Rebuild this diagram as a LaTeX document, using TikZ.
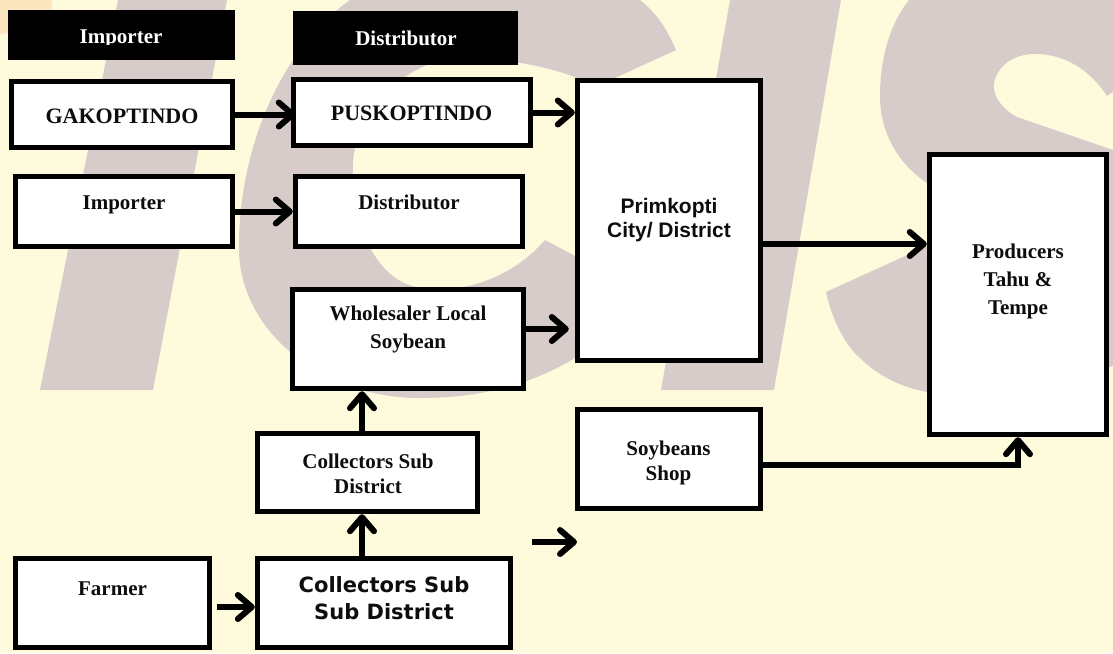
\documentclass[tikz,border=0pt]{standalone}
\usepackage{fontspec}
\setmainfont{Liberation Serif}
\newfontfamily\arialfont{Liberation Sans}
\newfontfamily\dejafont{DejaVu Sans}
\usetikzlibrary{arrows.meta,calc}
\definecolor{creambg}{HTML}{FEFADC}
\definecolor{markgray}{HTML}{D8CCCB}
\definecolor{peach}{HTML}{FCE6C0}
\tikzset{
  boxnode/.style={draw=black,fill=white,line width=5.4pt,inner sep=0pt,rectangle},
  headbox/.style={fill=black,inner sep=0pt,outer sep=0pt,rectangle},
  lab/.style={anchor=base,inner sep=0pt,font=\fontsize{21}{21}\selectfont\bfseries,text=black!95},
  labw/.style={lab,text=white},
  labarial/.style={lab,font=\fontsize{21}{21}\selectfont\arialfont\bfseries},
  labdeja/.style={lab,font=\fontsize{21}{21}\selectfont\dejafont\bfseries},
  conn/.style={line width=6pt,draw=black,-{Straight Barb[length=14pt,width=24pt,round]}}
}
\begin{document}
\begin{tikzpicture}[x=1pt,y=-1pt]
\useasboundingbox (0,0) rectangle (1113,653);
\fill[creambg] (0,0) rectangle (1113,653);
\fill[peach] (0,0) -- (52,0) -- (50,28) -- (0,34) -- cycle;
% watermark
\fill[markgray] (118,0) -- (227,0) -- (153,390) -- (40,390) -- cycle;
\fill[markgray] (676,50) .. controls (665,25) and (655,12) .. (640,0) -- (350,0)
  .. controls (280,50) and (238,150) .. (239,250)
  .. controls (240,330) and (320,398) .. (420,398)
  .. controls (480,398) and (530,385) .. (575,358) -- (620,340) -- (577,257) -- (545,240)
  .. controls (510,280) and (460,295) .. (417,287)
  .. controls (375,280) and (350,220) .. (353,163)
  .. controls (355,110) and (410,58) .. (460,58)
  .. controls (500,58) and (545,65) .. (577,78) -- (615,78) -- cycle;
\fill[markgray] (730,0) -- (841,0) -- (774,390) -- (661,390) -- cycle;
\fill[markgray] (909,0) .. controls (885,30) and (880,70) .. (880,96)
  .. controls (880,135) and (900,165) .. (927,183) -- (950,200) -- (950,240) -- (927,246) -- (826,292)
  .. controls (832,320) and (845,345) .. (860,358)
  .. controls (880,378) and (905,388) .. (927,392) -- (1000,400) -- (1113,366) -- (1113,150)
  -- (1017,117) .. controls (1000,108) and (990,92) .. (995,79)
  .. controls (1002,60) and (1020,54) .. (1035,54)
  .. controls (1065,54) and (1090,70) .. (1107,96) -- (1113,92) -- (1113,0) -- cycle;
% header boxes
\node[headbox,minimum width=227pt,minimum height=50pt] (himp) at (121.5,35) {};
\node[headbox,minimum width=225pt,minimum height=53.5pt] (hdist) at (405.5,38) {};
\begin{scope}
\clip (8,10) rectangle (235,44);
\node[labw] (himpt) at (121,43.5) {Importer};
\end{scope}
\node[labw] (hdistt) at (406,45.5) {Distributor};
% boxes
\node[boxnode,minimum width=221pt,minimum height=66pt] (gak) at (122,114.5) {};
\node[boxnode,minimum width=237pt,minimum height=66pt] (pusk) at (412,112.5) {};
\node[boxnode,minimum width=217pt,minimum height=70pt] (imp) at (124,211.5) {};
\node[boxnode,minimum width=227pt,minimum height=70pt] (dist) at (409,211.5) {};
\node[boxnode,minimum width=231pt,minimum height=99pt] (whole) at (408,339) {};
\node[boxnode,minimum width=220pt,minimum height=78pt] (csd) at (367.5,472.5) {};
\node[boxnode,minimum width=253pt,minimum height=89pt] (cssd) at (384,603) {};
\node[boxnode,minimum width=194pt,minimum height=89pt] (farmer) at (112.5,603) {};
\node[boxnode,minimum width=183pt,minimum height=280pt] (prim) at (669,220.5) {};
\node[boxnode,minimum width=177pt,minimum height=280pt] (prod) at (1018,294.5) {};
\node[boxnode,minimum width=183pt,minimum height=98.5pt] (soy) at (669,459) {};
% labels
\node[lab,font=\fontsize{22}{22}\selectfont\bfseries] (gakt) at (122,123) {GAKOPTINDO};
\node[lab,font=\fontsize{22}{22}\selectfont\bfseries] (puskt) at (411.5,120.5) {PUSKOPTINDO};
\node[lab] (impt) at (124,209) {Importer};
\node[lab] (distt) at (409,209) {Distributor};
\node[lab] (wholea) at (408,320.5) {Wholesaler Local};
\node[lab] (wholeb) at (408,348) {Soybean};
\node[lab] (csda) at (368,468) {Collectors Sub};
\node[lab] (csdb) at (368,493) {District};
\node[lab] (farmert) at (112.5,595) {Farmer};
\node[labdeja] (cssda) at (384,592) {Collectors Sub};
\node[labdeja] (cssdb) at (384,619) {Sub District};
\node[labarial] (prima) at (669,213) {Primkopti};
\node[labarial] (primb) at (669,237.5) {City/ District};
\node[lab] (proda) at (1018,258) {Producers};
\node[lab] (prodb) at (1018,286.5) {Tahu \&};
\node[lab] (prodc) at (1018,314.5) {Tempe};
\node[lab] (soya) at (668.5,455) {Soybeans};
\node[lab] (soyb) at (668.5,480) {Shop};
% free arrow ends
\coordinate (fa) at (532,542);
\coordinate (fb) at (577,542);
% connectors
\draw[conn,shorten >=-5pt] (gak.east) -- (gak.east -| pusk.west);
\draw[conn] (pusk.east) -- (pusk.east -| prim.west);
\draw[conn] (imp.east) -- (dist.west);
\draw[conn,shorten >=6pt] ([yshift=10pt]whole.east) -- ([yshift=10pt]whole.east -| prim.west);
\draw[conn] ([xshift=-5.5pt]csd.north) -- ([xshift=-5.5pt]csd.north |- whole.south);
\draw[conn] ([xshift=-22pt]cssd.north) -- ([xshift=-22pt]cssd.north |- csd.south);
\draw[conn,shorten <=5pt] ([yshift=-4pt]farmer.east) -- ([yshift=-4pt]farmer.east -| cssd.west);
\draw[conn] ([yshift=-23.5pt]prim.east) -- ([yshift=-23.5pt]prim.east -| prod.west);
\draw[conn] ([yshift=-6.4pt]soy.east) -| (prod.south);
\draw[conn] (fa) -- (fb);
\end{tikzpicture}
\end{document}
